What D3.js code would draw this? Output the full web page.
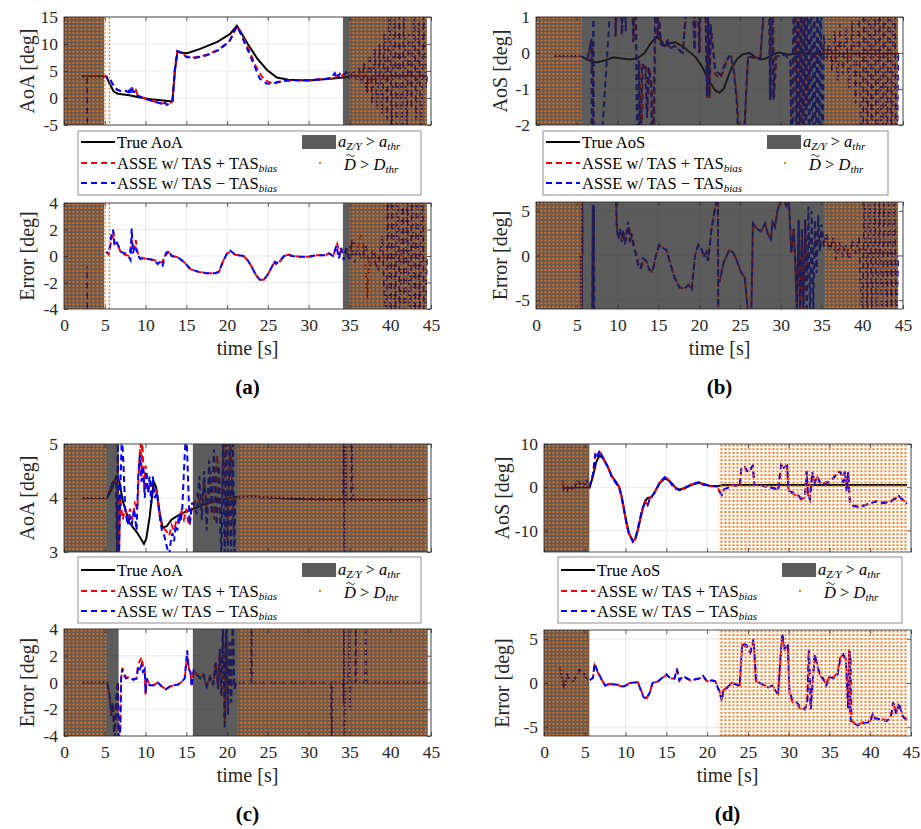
<!DOCTYPE html>
<html>
<head>
<meta charset="utf-8">
<script src="https://cdn.jsdelivr.net/npm/d3@7"></script>
<style>
  body { margin: 0; background: #fff; }
  svg { font-family: "Liberation Serif", "DejaVu Serif", serif; }
</style>
</head>
<body>
<svg id="fig" width="921" height="829"></svg>
<script>
// ---- shared ticks
var timeTicks = [0, 5, 10, 15, 20, 25, 30, 35, 40, 45];

// ---- panel (a): AoA
var aTrue = [[2.2,4],[5.2,4],[5.6,2.6],[6.1,1.2],[6.6,0.8],[8,0.5],[9.3,0.1],[11,-0.3],[13,-0.6],[13.3,-0.5],[13.6,5],[13.9,8.5],[14.5,8.4],[15.1,8.3],[16.7,9.1],[18.8,10.4],[20.4,11.9],[21.2,13.4],[21.6,12.4],[22.5,10.1],[23.7,7.3],[24.9,5.2],[26.1,3.8],[27.5,3.4],[30,3.25],[33,3.6],[35,3.95],[44.5,4]];
var aPlus = [[2.2,4],[5.2,4],[5.3,3.8],[5.6,3.5],[6,2.6],[6.5,1.5],[7,1.3],[7.5,1.4],[8,1.0],[8.2,1.2],[8.3,2.0],[8.5,1.0],[8.8,1.5],[9,0.6],[10,-0.2],[11,-0.6],[12,-1.0],[12.5,-0.9],[13,-1.0],[13.3,-0.6],[13.6,5.5],[13.9,8.6],[14.4,8.4],[15,7.7],[16,7.5],[17.5,8.0],[19,9.0],[20.3,10.6],[21.2,13.3],[21.6,12.2],[22.5,9.6],[23.5,5.9],[24.5,3.4],[25.5,2.7],[26.3,2.9],[27,3.2],[28.5,3.3],[30,3.3],[32,3.5],[33,3.8],[33.5,4.2],[33.8,3.6],[34.2,4.3],[34.5,3.8],[35,4.6],[35.3,3.5],[35.6,4.8],[36,4.0],[36.3,5.2],[36.6,3.6],[37,4.5],[37.2,1.0],[37.4,4.2],[37.7,2.5],[38,4.3],[38.3,3.2],[38.6,4.1],[39,3.6],[39.5,4.2],[40,3.8],[40.5,4.2],[41,3.9],[42,4.1],[43,3.9],[44.5,4.0]];
var aMinus = [[2.2,4],[2.8,4],[2.85,-7],null,[5.2,4],[5.3,3.7],[5.6,3.6],[6,2.4],[6.5,1.6],[7,1.2],[7.5,1.3],[7.9,1.1],[8.1,2.0],[8.2,1.0],[8.35,1.9],[8.5,1.1],[8.8,1.2],[9,0.5],[10,-0.2],[11,-0.6],[12,-1.1],[12.3,-0.7],[12.6,-1.3],[13,-0.9],[13.3,-0.6],[13.6,5.5],[13.9,8.7],[14.4,8.4],[15,7.6],[16,7.4],[17.5,7.9],[19,8.9],[20.3,10.5],[21.2,13.3],[21.6,12.1],[22.5,9.0],[23.2,6.5],[24,3.6],[24.8,2.7],[25.5,2.6],[26.3,3.0],[27,3.2],[28.5,3.3],[30,3.3],[32,3.5],[32.8,3.8],[33.2,4.6],[33.5,3.6],[33.8,4.5],[34.2,4.0],[34.6,4.8],[35,3.7],[35.4,5.0],[35.8,3.2],[36.2,5.5],[36.5,2.5],[36.8,6.5],[37.1,1.0],[37.5,8],[37.8,-1],[38.1,9],[38.4,-2],[38.7,10],[39,-3],[39.3,12],[39.6,-4],[39.9,17],[40.2,-6],[40.5,17],[40.8,-6],[41.1,17],[41.4,-6],[41.7,17],[42,-6],[42.3,12],[42.6,-2],[42.9,17],[43.2,-4],[43.5,14],[43.8,-6],[44.1,17],[44.4,2],[44.5,4]];
var aErrPlus = [[5.2,0.3],[5.5,0.1],[5.8,1.2],[6.1,1.6],[6.2,0.9],[6.5,1.0],[7,0.2],[7.5,0.1],[8,0.0],[8.3,1.2],[8.5,0.5],[8.8,1.2],[9,0.3],[9.3,-0.1],[10,-0.2],[11,-0.3],[11.5,-0.4],[12,-0.5],[12.5,0.1],[12.8,0.3],[13.2,0],[14,-0.1],[14.8,-0.5],[15.5,-1.0],[16.5,-1.2],[17.5,-1.3],[18.5,-1.3],[19,-1.2],[19.5,-0.4],[20,0.2],[20.5,0.3],[21,0.1],[22,0],[22.5,-0.3],[23,-0.8],[23.5,-1.4],[24,-1.8],[24.5,-1.8],[25,-1.4],[25.5,-0.8],[26,-0.3],[26.5,-0.4],[27,0],[27.5,0.1],[28,0],[29,-0.05],[30,-0.05],[31,0.05],[32,0.05],[32.5,0.2],[33,0],[33.5,0.9],[33.8,0.2],[34,0.5],[34.5,0.2],[35,0.8],[35.3,0.0],[35.6,1.0],[36,0.6],[36.4,1.5],[36.7,0.8],[37,-1.0],[37.2,-3.2],[37.4,-0.5],[37.8,0.3],[38.2,-0.6],[38.6,0.0],[39,-0.3],[39.5,0.1],[40,-0.2],[41,0.1],[42,-0.1],[43,0.1],[44.5,0]];
var aErrMinus = [[2.8,-0.8],[2.85,-6],null,[5.2,0.3],[5.5,0.2],[5.8,1.5],[6.0,2.0],[6.2,0.8],[6.5,1.0],[7,0.3],[7.5,0.2],[7.9,0],[8.15,-0.3],[8.3,2.1],[8.45,0.2],[8.7,0.8],[9,0.2],[9.3,-0.2],[10,-0.2],[11,-0.3],[11.5,-0.6],[11.8,-0.4],[12.1,-0.7],[12.5,0.2],[12.8,0.4],[13.2,0],[14,-0.1],[14.8,-0.5],[15.5,-1.0],[16.5,-1.2],[17.5,-1.3],[18.5,-1.3],[19,-1.2],[19.5,-0.4],[20,0.2],[20.4,0.4],[21,0.1],[22,0],[22.5,-0.3],[23,-0.8],[23.5,-1.4],[24,-1.8],[24.5,-1.8],[25,-1.4],[25.5,-0.8],[25.8,-0.4],[26,-0.6],[26.5,-0.3],[27,0],[27.5,0.1],[28,0],[29,-0.05],[30,-0.05],[31,0.05],[32,0.05],[32.5,0.2],[33,0],[33.4,0.8],[33.7,-0.2],[34,0.6],[34.3,-0.3],[34.6,0.6],[35,-0.4],[35.3,1.2],[35.6,-0.5],[36,0.5],[36.5,-0.2],[37,0.8],[37.5,-0.8],[38,0.4],[38.5,-1.2],[39,1.5],[39.5,-6],[39.7,6],[40,-6],[40.3,6],[40.6,-6],[40.9,6],[41.2,-6],[41.5,6],[41.8,-6],[42.1,6],[42.4,-6],[42.7,6],[43,-6],[43.3,6],[43.6,-6],[43.9,6],[44.2,-6],[44.5,0]];
var aGray = [[0,4.9],[34.2,44.5]];
var aDots = [[0,5.1],[5.45,5.65],[35,44.6]];

// ---- panel (b): AoS
var bTrue = [[2.2,-0.08],[5.5,-0.08],[6.5,-0.2],[7.5,-0.26],[8.5,-0.2],[9.5,-0.12],[10.5,-0.15],[11.5,-0.18],[12.5,-0.14],[13.3,0.0],[14,0.25],[14.8,0.45],[15.3,0.35],[15.8,0.2],[16.5,0.28],[17.1,0.3],[18,0.18],[19.5,-0.1],[20.3,-0.35],[21.3,-0.8],[22,-1.05],[22.5,-1.1],[23,-1.0],[23.5,-0.7],[24,-0.4],[24.7,-0.15],[25.4,-0.03],[26.2,0.0],[26.8,-0.1],[27.5,-0.18],[28.2,-0.15],[29,-0.05],[29.7,0.02],[30.3,-0.01],[31,-0.05],[32.5,0.0],[34,-0.02],[44.5,-0.02]];
var bPlus = [[2.2,-0.08],[5.5,-0.08],[6.3,-0.2],[6.75,0.35],[6.85,-0.5],[6.95,0.3],[7.05,-4],null,[9.7,3],[9.8,0.5],[9.95,3],null,[10.4,3],[10.6,0.55],[10.8,3],null,[11.8,3],[12.0,0.35],[12.2,3],[12.35,-0.3],[12.5,-4],[12.7,-0.25],[12.9,-4],[13.1,-0.3],[13.5,-0.4],[13.7,-1.6],[13.9,-0.4],[14.2,-0.9],[14.4,-4],[14.75,3],[14.95,0.45],[15.15,0.9],[15.35,0.25],[16,0.15],[16.2,0.4],[16.4,0.1],[17,0.2],[18,0.0],[19.1,3],[19.5,0.1],[19.8,3],[20.1,0.0],[20.3,3],[20.85,0.8],[21.0,-1.25],[21.15,0.9],[21.3,-1.25],[21.45,0.7],[22,-0.6],[22.6,-0.7],[23.0,-0.5],[23.4,-0.2],[23.7,-0.1],[24.0,-0.1],[24.3,-0.5],[24.7,-1.4],[25.2,-4],[26,-0.1],[27.5,-0.15],[28.6,3],[28.8,-1.25],[29.0,3],[29.2,-1.25],[29.5,-0.1],[30.5,-0.05],[31.2,-0.2],[31.4,-4],[31.6,-0.1],[31.8,3],[32.0,-4],[32.2,3],[32.4,-4],[32.6,3],[32.8,-4],[33.0,3],[33.2,-1.5],[33.5,-0.5],[34,0.2],[34.5,-0.3],[35,0.3],[35.5,-0.2],[36,0.2],[36.5,-0.3],[37,0.3],[38,-0.2],[39,0.2],[40,-0.2],[41,0.1],[42,-0.1],[44.4,0]];
var bMinus = [[2.2,-0.08],[5.5,-0.08],[6.3,-0.2],[6.8,0.4],[6.85,-4],[6.95,-4],[7.0,0.6],[7.05,1.5],[7.1,-4],[7.6,-4],[9.6,3],[9.75,0.45],[9.9,3],[10.3,3],[10.5,0.5],[10.7,3],[11.0,0.6],[11.2,3],[11.7,3],[11.9,0.3],[12.1,3],[12.3,-0.3],[12.45,-4],[12.6,-0.2],[12.8,-4],[13.0,-0.3],[13.4,-0.4],[13.6,-1.8],[13.8,-0.4],[14.1,-0.8],[14.3,-4],[14.7,3],[14.9,0.4],[15.1,0.9],[15.3,0.25],[15.9,0.15],[16.1,0.4],[16.3,0.1],[17,0.2],[18,0.0],[19.0,3],[19.4,0.1],[19.7,3],[20.0,0.0],[20.2,3],[20.8,0.9],[20.95,-1.2],[21.1,1],[21.25,-1.2],[21.4,0.8],[22,-0.5],[22.6,-0.6],[23.0,-0.4],[23.4,-0.2],[23.8,-0.05],[24.2,-0.4],[24.6,-1.3],[25.1,-4],[26,-0.1],[27.5,-0.15],[28.5,3],[28.7,-1.3],[28.9,3],[29.1,-1.3],[29.4,-0.1],[30.5,-0.05],[31.2,-0.2],[31.35,-4],[31.5,-0.1],[31.7,3],[31.9,-4],[32.1,3],[32.3,-4],[32.5,3],[32.7,-4],[32.9,3],[33.1,-4],[33.3,3],[33.5,-4],[33.7,3],[33.9,-4],[34.1,3],[34.3,-4],[34.5,3],[34.7,-4],[34.9,3],[35.1,-4],[35.3,0.5],[35.6,-0.2],[36,0.4],[36.3,-0.5],[36.6,0.6],[37,-0.8],[37.3,0.8],[37.6,-0.6],[38,0.7],[38.4,-1.0],[38.8,0.9],[39.2,-1.4],[39.6,1.5],[40,-4],[40.3,3],[40.6,-4],[40.9,3],[41.2,-4],[41.5,3],[41.8,-4],[42.1,3],[42.4,-4],[42.7,3],[43,-4],[43.3,3],[43.6,-4],[43.9,3],[44.2,-4],[44.4,0]];
var bErrPlus = [[5.5,0],[5.6,-8],[5.65,8],[5.7,0],null,[6.85,-8],[6.95,5.6],[7.0,-8],null,[9.8,8],[9.95,2.6],[10.2,2.2],[10.4,2.8],[10.6,1.8],[10.8,2.5],[11.0,1.6],[11.2,2.6],[11.4,3.4],[11.6,1.8],[11.8,2.2],[12.1,0.7],[12.4,-0.2],[12.6,-1.2],[12.9,-1.4],[13.2,-0.4],[13.6,-0.7],[14.0,-1.7],[14.3,-1.8],[14.7,0],[15.1,1.2],[15.5,0.9],[16,0.6],[16.5,-1.0],[17,-2.5],[17.6,-3.6],[18.2,-3.7],[18.7,-3.3],[19.1,-3.8],[19.5,0],[19.9,1.2],[20.3,0.7],[20.6,-0.2],[20.9,0.4],[21.1,-0.6],[21.5,2.9],[22,5.6],[22.3,6.5],[22.35,-8],null,[22.5,-3],[23,-0.8],[23.7,0.6],[24.2,0.3],[24.6,-0.5],[25.1,-1.8],[25.6,-2.5],[26,-6.5],null,[26.4,-6.5],[26.6,3.6],[27.1,3.0],[27.6,2.7],[28.1,3.6],[28.4,2.5],[28.8,1.8],[29.0,3.8],[29.3,3.2],[29.6,5],[30.0,6.2],[30.4,6.3],[30.7,5.5],[31.0,6.5],[31.3,0.3],[31.6,3],[31.8,-1],[32.0,-7],[32.2,4],[32.4,-7],[32.6,3],[32.8,-7],[33.0,4],[33.2,-2],[33.5,2],[34,0.5],[34.5,2.5],[35,1.0],[35.5,2.0],[36,0.8],[36.5,1.8],[37,0.4],[37.5,1.2],[38,0.2],[38.5,1.0],[39,0.4],[40,0.8],[41,0.2],[42,0.6],[43,0.2],[44.4,0.4]];
var bErrMinus = [[5.5,0],[5.6,-8],[5.65,8],[5.7,0],null,[6.9,-8],[7.0,5.8],[7.05,-8],[7.1,5.5],[7.15,-8],null,[9.75,8],[9.9,3],[10.1,1.8],[10.3,3],[10.5,1.5],[10.7,2.8],[10.9,1.2],[11.1,2.5],[11.3,3.8],[11.5,1.5],[11.7,2.5],[12,0.8],[12.3,0],[12.5,-1],[12.8,-1.5],[13.1,-0.3],[13.5,-0.6],[13.9,-1.6],[14.3,-1.8],[14.7,0],[15.1,1.2],[15.5,0.9],[16,0.6],[16.5,-1.0],[17,-2.5],[17.6,-3.6],[18.2,-3.7],[18.7,-3.3],[19.1,-3.8],[19.5,0],[19.9,1.2],[20.3,0.7],[20.6,-0.2],[20.9,0.4],[21.1,-0.6],[21.5,2.8],[22,5.5],[22.3,6.5],[22.35,-8],null,[22.5,-3],[23,-0.8],[23.7,0.6],[24.2,0.3],[24.6,-0.5],[25.1,-1.8],[25.6,-2.5],[26,-6.5],null,[26.4,-6.5],[26.6,3.6],[27.1,3.0],[27.6,2.7],[28.1,3.6],[28.4,2.5],[28.8,1.8],[29.0,3.8],[29.3,3.2],[29.6,5],[30.0,6.2],[30.4,6.3],[30.7,5.5],[31.0,6.5],[31.3,0.3],[31.6,3],[31.8,-1],[32.0,-7],[32.2,4],[32.4,-7],[32.6,3],[32.8,-7],[33.0,4],[33.2,-7],[33.4,5.5],[33.6,-7],[33.8,5],[34.0,-6.5],[34.2,4],[34.4,-2],[34.6,4.5],[34.8,0.5],[35.0,3.5],[35.3,1],[35.6,2.5],[36.0,0.5],[36.4,2],[36.8,-0.5],[37.2,1.5],[37.6,0],[38,1],[38.4,-0.5],[38.8,1.8],[39.2,0.2],[39.6,2],[40,-7],[40.3,7],[40.6,-7],[40.9,7],[41.2,-7],[41.5,7],[41.8,-7],[42.1,7],[42.4,-7],[42.7,7],[43,-7],[43.3,7],[43.6,-7],[43.9,7],[44.2,-7],[44.4,0]];
var bGray = [[0,44.4]];
var bDots = [[0,5.6],[35.4,44.4]];

// ---- panel (c): AoA
var cTrue = [[2.2,4.0],[5.3,4.0],[5.8,4.15],[6.4,4.4],[6.8,4.3],[7.2,3.95],[8,3.55],[9,3.35],[9.8,3.15],[10.1,3.25],[10.5,3.65],[11,4.3],[11.3,4.2],[11.7,3.75],[12.1,3.45],[12.6,3.48],[13.2,3.6],[13.7,3.65],[14.5,3.72],[15.5,3.78],[17,3.87],[19,3.96],[21,4.02],[23,4.03],[26,4.0],[30,3.97],[44.5,3.96]];
var cPlus = [[2.2,4],[5.3,4],[6.0,4.3],[6.4,4.35],[6.5,3.0],[6.6,4.8],[6.75,3.0],[6.9,4.0],[7.2,3.6],[7.5,3.8],[7.8,3.6],[8.1,3.8],[8.4,3.6],[8.7,3.9],[9.0,3.8],[9.2,4.6],[9.4,5.1],[9.5,4.4],[9.6,5.1],[9.8,4.2],[10.0,4.6],[10.3,4.1],[10.6,4.3],[10.9,4.1],[11.2,4.2],[11.5,4.0],[11.8,3.6],[12.1,3.45],[12.5,3.4],[12.9,3.3],[13.2,3.5],[13.5,3.4],[13.8,3.6],[14.1,3.55],[14.4,3.75],[14.7,3.6],[15.0,3.8],[15.3,3.5],[15.5,3.6],[15.7,3.9],[16.0,3.9],[16.4,4.1],[16.8,3.8],[17.2,4.3],[17.6,3.7],[18.0,4.5],[18.4,3.6],[18.8,4.8],[19.2,3.3],[19.6,5.2],[20.0,3.2],[20.4,5.2],[20.8,3.4],[21.0,4.0],[22,4.02],[44.5,3.96]];
var cMinus = [[2.2,4.0],[5.3,4.0],[6.0,4.3],[6.4,4.3],[6.5,3.0],[6.6,5.2],[6.75,2.9],[6.9,4.1],[7.1,5.2],[7.3,4.6],[7.5,3.8],[7.8,3.5],[8.0,3.7],[8.3,3.5],[8.6,3.8],[8.9,3.4],[9.1,4.4],[9.3,4.8],[9.5,4.3],[9.7,4.6],[9.9,4.0],[10.1,4.5],[10.3,4.1],[10.5,4.4],[10.7,3.9],[10.9,4.4],[11.1,4.0],[11.4,4.1],[11.7,3.7],[12.0,3.4],[12.3,3.3],[12.6,3.1],[12.9,2.95],[13.1,3.2],[13.3,3.35],[13.5,3.2],[13.7,3.5],[13.9,3.4],[14.1,3.7],[14.3,3.55],[14.5,3.8],[14.8,4.8],[15.0,5.3],[15.2,4.4],[15.4,3.5],[15.7,3.9],[15.9,3.9],[16.3,3.7],[16.6,4.4],[16.9,3.6],[17.2,4.5],[17.5,3.4],[17.8,4.7],[18.1,3.7],[18.4,4.9],[18.7,3.5],[19.0,4.6],[19.3,2.8],[19.5,5.2],[19.7,2.8],[19.9,5.2],[20.1,2.8],[20.3,5.2],[20.5,2.8],[20.7,5.2],[20.9,2.8],[21.0,4.0],[22,4.02],[34.2,3.96],[34.3,5.2],[34.4,2.8],[34.5,5.2],[34.6,3.96],[35.2,3.96],[35.3,5.2],[35.4,4.3],[35.5,3.96],[44.5,3.96]];
var cErrPlus = [[2.2,0],[5.3,0],[5.6,-1.1],[5.8,-2.4],[6.0,-1.6],[6.2,-4.5],[6.4,-1.3],[6.6,0],[6.7,-4.5],[6.9,-3.4],[7.0,0.3],[7.15,1.1],[7.3,0.7],[7.6,0.4],[8.0,0.4],[8.5,0.25],[8.9,0.3],[9.1,1.4],[9.3,1.6],[9.5,1.9],[9.7,1.2],[9.9,1.0],[10.0,-0.9],[10.15,0.3],[10.5,-0.2],[11,-0.2],[11.5,0],[12,-0.3],[12.5,-0.5],[13,-0.3],[13.5,-0.2],[14,-0.15],[14.5,0.1],[14.8,0.3],[15.1,2.0],[15.3,1.1],[15.5,0.9],[15.65,-0.2],[15.9,0.9],[16.3,0.6],[16.7,0.3],[17.1,0.6],[17.5,-0.3],[17.9,0.4],[18.3,-0.2],[18.6,1.5],[18.9,-0.5],[19.1,2.3],[19.3,-1.0],[19.5,4.5],[19.7,-3.0],[19.9,4.5],[20.1,-2.0],[20.3,3],[20.5,-1.5],[20.7,4.5],[20.9,-0.5],[21.1,0],[44.5,0]];
var cErrMinus = [[2.2,0],[5.3,0],[5.6,-1.0],[5.8,-2.5],[6.0,-1.5],[6.2,-4.5],[6.4,-1.2],[6.6,0.1],[6.7,-4.5],[6.9,-3.5],[7.0,0.2],[7.15,1.0],[7.3,0.6],[7.6,0.3],[8.0,0.4],[8.5,0.2],[8.9,0.3],[9.1,1.2],[9.3,1.0],[9.5,1.3],[9.7,0.8],[9.9,1.0],[10.0,-0.8],[10.15,0.3],[10.5,-0.2],[11,-0.2],[11.5,0],[12,-0.3],[12.5,-0.5],[13,-0.3],[13.5,-0.2],[14,-0.15],[14.5,0.1],[14.8,0.3],[15.1,2.4],[15.3,1.0],[15.5,0.8],[15.65,-0.3],[15.9,0.9],[16.3,0.6],[16.7,0.3],[17.1,0.6],[17.5,-0.3],[17.9,0.4],[18.3,-0.2],[18.6,1.5],[18.9,-0.5],[19.1,2.5],[19.3,-1.0],[19.5,4.5],[19.7,-3.5],[19.9,4.5],[20.1,-2.5],[20.3,3],[20.5,-1.5],[20.7,4.5],[20.9,-0.5],[21.1,0],[22.9,0],[23.0,4.5],[23.05,1.5],[23.1,0],[32.7,0],[32.8,-3],[32.85,-4.5],[32.9,0],[34.2,0],[34.3,-1.5],[34.35,4.5],[34.4,-4.5],[34.5,0],[34.9,0],[35.0,4.5],[35.05,-2],[35.1,0],[35.7,0],[35.8,4.5],[35.85,0],[36.9,0],[37.0,4.5],[37.05,1.5],[37.1,0],[44.5,0]];
var cGray = [[0,6.7],[15.8,44.6]];
var cDots = [[0,5.2],[21.3,44.6]];

// ---- panel (d): AoS
var dTrue = [[2.2,0],[5.6,0],[6.0,2.5],[6.4,5.8],[6.8,7.3],[7.2,6.8],[7.8,4.8],[8.3,2.6],[8.8,1.3],[9.2,0.2],[9.5,-2.0],[9.8,-5],[10.1,-8],[10.4,-10.5],[10.9,-12.5],[11.2,-12.0],[11.5,-10],[11.8,-7.5],[12.1,-5],[12.4,-3.2],[12.7,-2.5],[13.2,-2.3],[13.6,-1.0],[14.2,1.0],[14.8,2.0],[15.2,1.7],[15.7,0.8],[16.2,-0.2],[16.6,-0.5],[17.2,-0.3],[18,0.5],[19,1.0],[19.7,0.7],[20.5,0.2],[21.2,0.2],[22,0.5],[44.5,0.5]];
var dPlus = [[2.2,1.3],[2.4,-0.4],[2.6,0.3],[2.9,-0.7],[3.2,0.1],[3.5,-0.5],[3.8,0.4],[4.1,1.3],[4.4,0.7],[4.7,1.1],[5.0,0.6],[5.3,1.3],[5.6,0.2],[6.0,2.9],[6.3,7.5],[6.5,6.9],[6.8,8.2],[7.2,7.0],[7.8,4.8],[8.3,2.5],[8.8,1.1],[9.2,0.1],[9.5,-2.1],[9.8,-5.1],[10.1,-8.2],[10.4,-10.7],[10.9,-12.6],[11.2,-11.9],[11.5,-9.8],[11.8,-7.2],[12.1,-4.9],[12.4,-3.4],[12.7,-4.0],[13.0,-2.5],[13.6,-1.1],[14.2,1.1],[14.8,2.2],[15.2,1.9],[15.7,0.6],[16.2,-0.3],[16.6,-0.6],[17.2,-0.2],[18,0.6],[19,1.1],[19.5,0.6],[20.5,0.3],[21.2,0.3],[21.5,-0.9],[21.8,-1.6],[22.1,-0.5],[22.5,-0.2],[23,0.5],[24,0.2],[24.2,4.3],[24.6,4.6],[25.0,3.4],[25.3,4.0],[25.6,4.8],[25.8,0.5],[26.5,0.5],[27.5,0.0],[28.3,-0.3],[28.7,-0.8],[29.1,5.2],[29.4,4.3],[29.8,4.8],[30.0,-1.0],[30.5,-1.5],[31.0,-2.0],[31.5,-2.8],[32.0,-2.4],[32.2,3.5],[32.4,-2.2],[32.6,-3.0],[32.9,3.2],[33.2,1.2],[33.5,2.2],[33.8,1.4],[34.2,0.8],[34.6,1.2],[35.0,1.3],[35.5,2.2],[36.0,3.6],[36.4,3.3],[36.7,1.2],[36.9,3.6],[37.1,-0.5],[37.3,3.2],[37.5,-3.0],[37.7,-4.0],[38.5,-4.5],[39,-4.3],[40,-3.7],[40.5,-3.3],[41,-3.2],[41.5,-3.5],[42,-3.4],[42.5,-3.2],[43,-2.6],[43.5,-2.3],[44,-2.9],[44.5,-3.6]];
var dMinus = [[2.2,1.5],[2.4,-0.5],[2.6,0.2],[2.9,-0.8],[3.2,0.0],[3.5,-0.6],[3.8,0.3],[4.1,1.5],[4.4,0.8],[4.7,1.2],[5.0,0.5],[5.3,1.5],[5.6,0.2],[6.0,3.0],[6.3,7.8],[6.5,6.8],[6.8,8.5],[7.2,7.0],[7.8,4.8],[8.3,2.5],[8.8,1.0],[9.2,0.0],[9.5,-2.2],[9.8,-5.2],[10.1,-8.3],[10.4,-10.8],[10.9,-12.6],[11.2,-11.8],[11.5,-9.6],[11.8,-7.0],[12.1,-4.8],[12.4,-3.5],[12.7,-4.2],[13.0,-2.6],[13.6,-1.2],[14.2,1.2],[14.8,2.3],[15.2,2.0],[15.7,0.5],[16.2,-0.4],[16.6,-0.7],[17.2,-0.2],[18,0.6],[19,1.2],[19.5,0.6],[20.5,0.3],[21.2,0.3],[21.5,-1.0],[21.8,-1.8],[22.1,-0.5],[22.5,-0.2],[23,0.5],[24,0.2],[24.2,4.5],[24.6,4.8],[25.0,3.5],[25.3,4.2],[25.6,5.0],[25.8,0.5],[26.5,0.5],[27.5,0.0],[28.3,-0.3],[28.7,-0.8],[29.1,5.5],[29.4,4.5],[29.8,5.0],[30.0,-0.8],[30.5,-1.2],[31.0,-1.6],[31.5,-2.5],[32.0,-2.0],[32.2,3.8],[32.4,-2.0],[32.6,-2.8],[32.9,3.5],[33.2,1.0],[33.5,2.5],[33.8,1.2],[34.2,0.6],[34.6,1.0],[35.0,1.1],[35.5,2.0],[36.0,3.4],[36.4,3.5],[36.7,1.0],[36.9,3.8],[37.1,-1],[37.3,3.5],[37.5,-3.5],[37.7,-4.2],[38.5,-4.6],[39,-4.4],[40,-3.8],[40.5,-3.4],[41,-3.3],[41.5,-3.7],[42,-3.6],[42.5,-3.4],[43,-2.8],[43.5,-2.0],[44,-3.0],[44.5,-3.8]];
var dErrPlus = [[2.0,1.6],[2.2,0.6],[2.5,-0.5],[2.8,0.9],[3.2,0.3],[3.5,0.2],[4.0,0.8],[4.3,1.4],[4.8,1.2],[5.2,0.5],[5.6,0.3],[6.0,0.6],[6.2,2.0],[6.5,1.4],[7,0.5],[7.5,-0.3],[8,-0.1],[9,-0.2],[9.8,-0.5],[10.5,0],[11.5,0.1],[12.2,-1.5],[12.6,-1.7],[13,-1.0],[13.3,0],[14,0.2],[15,0.9],[15.5,0.5],[16,0.5],[16.3,1.4],[16.6,0.3],[17,0.7],[18,0.3],[19,0.5],[19.5,0.7],[20,0.2],[20.6,0.3],[21,0.2],[21.5,-0.9],[21.8,-1.8],[22,-0.8],[22.5,-0.5],[23,0],[24,-0.3],[24.3,4.3],[24.8,4.1],[25.3,3.4],[25.7,4.7],[26,0.2],[26.5,0],[27.5,-0.5],[28,-0.3],[28.7,-1.2],[29.2,5.2],[29.5,3.8],[29.9,4.3],[30.1,-1.2],[30.5,-2.2],[31,-2.4],[31.5,-3.0],[32,-3.0],[32.3,-1.6],[32.45,3.8],[32.7,-2.6],[33.2,3.0],[33.5,2.2],[33.8,1.0],[34.2,0.6],[34.6,-0.2],[35,0.8],[35.5,0.6],[36,1.3],[36.3,2.8],[36.7,3.3],[37,2.8],[37.3,-2.5],[37.4,3.8],[37.5,-3.5],[37.6,3.0],[37.7,-4.3],[38,-4.5],[38.5,-4.7],[39,-4.5],[40,-4.3],[40.3,-3.6],[40.6,-4.0],[41.5,-4.1],[42,-4.2],[42.5,-3.8],[42.9,-2.5],[43.2,-3.3],[43.5,-2.5],[44,-3.6],[44.5,-4.2]];
var dErrMinus = [[2.0,1.8],[2.2,0.5],[2.5,-0.6],[2.8,1.0],[3.2,0.3],[3.5,0.1],[4.0,0.8],[4.3,1.5],[4.8,1.3],[5.2,0.5],[5.6,0.3],[6.0,0.6],[6.2,2.2],[6.5,1.5],[7,0.5],[7.5,-0.3],[8,-0.1],[9,-0.2],[9.8,-0.4],[10.5,0],[11.5,0.1],[12.2,-1.6],[12.6,-1.8],[13,-1.0],[13.3,0],[14,0.2],[15,1.0],[15.5,0.5],[16,0.5],[16.3,1.6],[16.6,0.3],[17,0.8],[18,0.3],[19,0.5],[19.5,0.8],[20,0.2],[20.6,0.3],[21,0.2],[21.5,-1],[21.8,-2],[22,-0.8],[22.5,-0.5],[23,0],[24,-0.3],[24.3,4.5],[24.8,4.3],[25.3,3.5],[25.7,5],[26,0.2],[26.5,0],[27.5,-0.5],[28,-0.3],[28.7,-1.3],[29.2,5.7],[29.5,4],[29.9,4.5],[30.1,-1],[30.5,-2],[31,-2.2],[31.5,-2.8],[32,-3],[32.3,-2],[32.5,3.7],[32.7,-3],[33.2,3.3],[33.5,2],[33.8,0.9],[34.2,0.5],[34.6,-0.3],[35,0.7],[35.5,0.5],[36,1],[36.3,2.5],[36.7,3.2],[37,2.5],[37.3,-3],[37.5,3.6],[37.6,-4.5],[38,-4.6],[38.5,-4.8],[39,-4.6],[40,-4.4],[40.3,-3.5],[40.6,-4],[41.5,-4.2],[42,-4.3],[42.5,-4],[42.8,-2.2],[43.2,-3.5],[43.5,-2.2],[44,-3.8],[44.5,-4.3]];
var dGray = [[0,5.55]];
var dDots = [[0,5.55],[21.4,44.6]];

var panels = [
  { tag: "(a)", x0: 64, x1: 431, top1: 17, bot1: 125, top2: 203, bot2: 309, labX: 27, leg: [78, 131, 343, 64],
    yLab: "AoA [deg]", trueName: "True AoA", y1: [-5, 15], y1t: [-5, 0, 5, 10, 15], y2: [-4, 4], y2t: [-4, -2, 0, 2, 4],
    truth: aTrue, plus: aPlus, minus: aMinus, ePlus: aErrPlus, eMinus: aErrMinus, gray: aGray, dots: aDots },
  { tag: "(b)", x0: 536, x1: 903, top1: 17, bot1: 125, top2: 202, bot2: 309, labX: 500, leg: [543, 131, 345, 64],
    yLab: "AoS [deg]", trueName: "True AoS", y1: [-2, 1], y1t: [-2, -1, 0, 1], y2: [-6, 6], y2t: [-5, 0, 5],
    truth: bTrue, plus: bPlus, minus: bMinus, ePlus: bErrPlus, eMinus: bErrMinus, gray: bGray, dots: bDots },
  { tag: "(c)", x0: 64, x1: 431, top1: 444, bot1: 552, top2: 629, bot2: 736, labX: 27, leg: [78, 557, 343, 66],
    yLab: "AoA [deg]", trueName: "True AoA", y1: [3, 5], y1t: [3, 4, 5], y2: [-4, 4], y2t: [-4, -2, 0, 2, 4],
    truth: cTrue, plus: cPlus, minus: cMinus, ePlus: cErrPlus, eMinus: cErrMinus, gray: cGray, dots: cDots },
  { tag: "(d)", x0: 544, x1: 911, top1: 444, bot1: 552, top2: 630, bot2: 736, labX: 502, leg: [558, 557, 344, 66],
    yLab: "AoS [deg]", trueName: "True AoS", y1: [-15, 10], y1t: [-10, 0, 10], y2: [-6, 6], y2t: [-5, 0, 5],
    truth: dTrue, plus: dPlus, minus: dMinus, ePlus: dErrPlus, eMinus: dErrMinus, gray: dGray, dots: dDots }
];

var svg = d3.select("#fig");
var defs = svg.append("defs");
var clipN = 0;
var ink = "#262626";
var dotColor = "#ff6a00";

function richText(sel, parts) {
  parts.forEach(function(p) {
    var t = sel.append("tspan").text(p.t);
    if (p.it) t.attr("font-style", "italic");
    if (p.sub) t.attr("font-size", 11).attr("dy", 3);
    if (p.up) t.attr("dy", -3);
  });
}

function drawAxes(p, x, dom, ticks, top, bot, showX, label, truth, plus, minus) {
  var y = d3.scaleLinear().domain(dom).range([bot, top]);
  var cid = "clip" + (clipN++);
  defs.append("clipPath").attr("id", cid).append("rect")
    .attr("x", p.x0).attr("y", top).attr("width", p.x1 - p.x0).attr("height", bot - top);
  var pid = "dots" + cid;
  var pat = defs.append("pattern").attr("id", pid).attr("patternUnits", "userSpaceOnUse")
    .attr("x", p.x0 + 0.5).attr("y", top + 0.5).attr("width", 4).attr("height", 3.7);
  pat.append("rect").attr("width", 1.9).attr("height", 1.9).attr("fill", dotColor);

  var g = svg.append("g");
  // grid
  g.selectAll(null).data(timeTicks).join("line")
    .attr("x1", function(d) { return x(d); }).attr("x2", function(d) { return x(d); })
    .attr("y1", top).attr("y2", bot).attr("stroke", "#dfdfdf").attr("stroke-width", 0.7);
  g.selectAll(null).data(ticks).join("line")
    .attr("x1", p.x0).attr("x2", p.x1)
    .attr("y1", function(d) { return y(d); }).attr("y2", function(d) { return y(d); })
    .attr("stroke", "#dfdfdf").attr("stroke-width", 0.7);

  var line = d3.line().defined(function(d) { return d != null; })
    .x(function(d) { return x(d[0]); }).y(function(d) { return y(d[1]); });
  var lg = g.append("g").attr("clip-path", "url(#" + cid + ")");
  if (truth) lg.append("path").attr("d", line(truth)).attr("fill", "none")
    .attr("stroke", "#000").attr("stroke-width", 2);
  lg.append("path").attr("d", line(plus)).attr("fill", "none").attr("stroke", "#ff0000")
    .attr("stroke-width", 2).attr("stroke-dasharray", "6,4");
  lg.append("path").attr("d", line(minus)).attr("fill", "none").attr("stroke", "#0000ff")
    .attr("stroke-width", 2).attr("stroke-dasharray", "6,4").attr("stroke-dashoffset", 4);

  // flagged regions
  lg.selectAll(null).data(p.gray).join("rect")
    .attr("x", function(d) { return x(d[0]); }).attr("width", function(d) { return x(d[1]) - x(d[0]); })
    .attr("y", top).attr("height", bot - top).attr("fill", ink).attr("opacity", 0.75);
  lg.selectAll(null).data(p.dots).join("rect")
    .attr("x", function(d) { return x(d[0]); }).attr("width", function(d) { return x(d[1]) - x(d[0]); })
    .attr("y", top).attr("height", bot - top).attr("fill", "url(#" + pid + ")");

  // axes with inward ticks on all sides
  var fmt = function(d) { return d < 0 ? "-" + Math.abs(d) : String(d); };
  var axB = g.append("g").attr("transform", "translate(0," + bot + ")")
    .call(d3.axisBottom(x).tickValues(timeTicks).tickSizeInner(-4).tickSizeOuter(0).tickPadding(10)
      .tickFormat(showX ? fmt : function() { return ""; }));
  var axT = g.append("g").attr("transform", "translate(0," + top + ")")
    .call(d3.axisTop(x).tickValues(timeTicks).tickSizeInner(-4).tickSizeOuter(0).tickFormat(""));
  var axL = g.append("g").attr("transform", "translate(" + p.x0 + ",0)")
    .call(d3.axisLeft(y).tickValues(ticks).tickSizeInner(-4).tickSizeOuter(0).tickPadding(6).tickFormat(fmt));
  var axR = g.append("g").attr("transform", "translate(" + p.x1 + ",0)")
    .call(d3.axisRight(y).tickValues(ticks).tickSizeInner(-4).tickSizeOuter(0).tickFormat(""));
  [axB, axT, axL, axR].forEach(function(a) {
    a.select(".domain").remove();
    a.selectAll("line").attr("stroke", ink).attr("stroke-width", 0.7);
    a.selectAll("text").attr("fill", ink).attr("font-size", 17.5)
      .attr("font-family", "'Liberation Serif', serif");
  });
  g.append("rect").attr("x", p.x0).attr("y", top).attr("width", p.x1 - p.x0).attr("height", bot - top)
    .attr("fill", "none").attr("stroke", ink).attr("stroke-width", 0.8);

  g.append("text").attr("transform", "translate(" + p.labX + "," + ((top + bot) / 2) + ") rotate(-90)")
    .attr("text-anchor", "middle").attr("dy", "0.35em").attr("font-size", 20).attr("fill", ink).text(label);
}

function drawLegend(p) {
  var L = p.leg, lx = L[0], ly = L[1], lw = L[2], lh = L[3];
  var g = svg.append("g");
  g.append("rect").attr("x", lx).attr("y", ly).attr("width", lw).attr("height", lh)
    .attr("fill", "#fff").attr("stroke", "#8f8f8f").attr("stroke-width", 1);
  var rows = [ly + lh - 53, ly + lh - 32, ly + lh - 12];
  var items = [
    { c: "#000", dash: null, parts: [{ t: p.trueName }] },
    { c: "#ff0000", dash: "6,4", parts: [{ t: "ASSE w/ TAS + TAS" }, { t: "bias", it: true, sub: true }] },
    { c: "#0000ff", dash: "6,4", parts: [{ t: "ASSE w/ TAS \u2212 TAS" }, { t: "bias", it: true, sub: true }] }
  ];
  items.forEach(function(it, i) {
    g.append("line").attr("x1", lx + 3).attr("x2", lx + 37).attr("y1", rows[i]).attr("y2", rows[i])
      .attr("stroke", it.c).attr("stroke-width", 2).attr("stroke-dasharray", it.dash);
    var t = g.append("text").attr("x", lx + 39).attr("y", rows[i]).attr("dy", "0.35em")
      .attr("font-size", 16.5).attr("fill", "#000");
    richText(t, it.parts);
  });
  g.append("rect").attr("x", lx + 224).attr("y", rows[0] - 7).attr("width", 34).attr("height", 14)
    .attr("fill", ink).attr("opacity", 0.75);
  var t1 = g.append("text").attr("x", lx + 260).attr("y", rows[0] - 1).attr("dy", "0.35em")
    .attr("font-size", 16.5).attr("fill", "#000");
  richText(t1, [{ t: "a", it: true }, { t: "Z/Y", it: true, sub: true }, { t: " > ", up: true }, { t: "a", it: true }, { t: "thr", it: true, sub: true }]);
  g.append("rect").attr("x", lx + 241).attr("y", rows[1] - 0.9).attr("width", 1.9).attr("height", 1.9)
    .attr("fill", dotColor);
  // tilde drawn as its own mark above the D
  var t2 = g.append("text").attr("x", lx + 266).attr("y", rows[1] + 1).attr("dy", "0.35em")
    .attr("font-size", 16.5).attr("fill", "#000");
  richText(t2, [{ t: "D", it: true }, { t: " > " }, { t: "D", it: true }, { t: "thr", it: true, sub: true }]);
  g.append("path")
    .attr("d", "M" + (lx + 268.5) + "," + (rows[1] - 7.5) + " q2,-2.5 4,0 t4,0")
    .attr("fill", "none").attr("stroke", "#000").attr("stroke-width", 0.9);
}

panels.forEach(function(p) {
  var x = d3.scaleLinear().domain([0, 45]).range([p.x0, p.x1]);
  drawAxes(p, x, p.y1, p.y1t, p.top1, p.bot1, false, p.yLab, p.truth, p.plus, p.minus);
  drawAxes(p, x, p.y2, p.y2t, p.top2, p.bot2, true, "Error [deg]", null, p.ePlus, p.eMinus);
  drawLegend(p);
  var mid = (p.x0 + p.x1) / 2;
  svg.append("text").attr("x", mid).attr("y", p.bot2 + 46).attr("text-anchor", "middle")
    .attr("font-size", 20).attr("fill", ink).text("time [s]");
  svg.append("text").attr("x", mid).attr("y", p.bot2 + 85).attr("text-anchor", "middle")
    .attr("font-size", 21).attr("font-weight", "bold").attr("fill", "#000").text(p.tag);
});
</script>
</body>
</html>
